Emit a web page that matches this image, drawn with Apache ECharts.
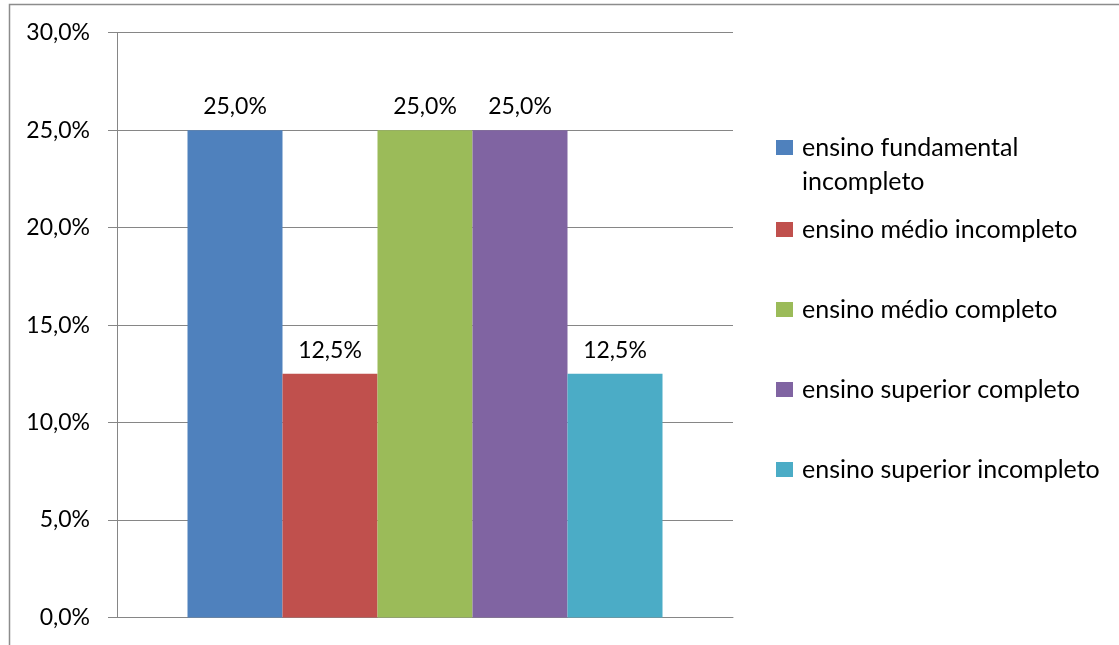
<!DOCTYPE html>
<html>
<head>
<meta charset="utf-8">
<script src="https://cdn.jsdelivr.net/npm/echarts@6/dist/echarts.min.js"></script>
<style>
  html, body { margin: 0; padding: 0; background: #fff; }
  #chart { width: 1119px; height: 645px; }
</style>
</head>
<body>
<div id="chart"></div>
<script>
// Escolaridade: percentage per education level
const categories = [''];
const seriesNames = [
  'ensino fundamental incompleto',
  'ensino médio incompleto',
  'ensino médio completo',
  'ensino superior completo',
  'ensino superior incompleto'
];
const seriesValues = [25.0, 12.5, 25.0, 25.0, 12.5];
const seriesColors = ['#4F81BD', '#C0504D', '#9BBB59', '#8064A2', '#4BACC6'];
const yTicks = { min: 0, max: 30, interval: 5 };

const FONT = 'Lato';
const fmtPct = v => Number(v).toFixed(1).replace('.', ',') + '%';

const chart = echarts.init(document.getElementById('chart'), null, { renderer: 'canvas' });

const series = seriesNames.map((name, i) => ({
  name: name,
  type: 'bar',
  data: [seriesValues[i]],
  barWidth: 95,
  barGap: '0%',
  itemStyle: { color: seriesColors[i] },
  label: {
    show: true,
    position: 'top',
    distance: 12,
    fontFamily: FONT,
    fontSize: 23,
    color: '#000',
    formatter: p => fmtPct(p.value)
  },
  emphasis: { disabled: true }
}));

const legendText = { fontFamily: FONT, fontSize: 25, color: '#000', padding: [0, 0, 0, 4] };

chart.setOption({
  animation: false,
  backgroundColor: '#fff',
  grid: { left: 117, right: 386, top: 32.7, bottom: 27.5, containLabel: false },
  xAxis: {
    type: 'category',
    data: categories,
    axisLine: { show: true, lineStyle: { color: '#868686', width: 1 } },
    axisTick: { show: false },
    axisLabel: { show: false },
    splitLine: { show: false }
  },
  yAxis: {
    type: 'value',
    min: yTicks.min,
    max: yTicks.max,
    interval: yTicks.interval,
    axisLine: { show: true, lineStyle: { color: '#868686', width: 1 } },
    axisTick: { show: true, inside: false, length: 9, lineStyle: { color: '#868686' } },
    axisLabel: {
      margin: 27,
      fontFamily: FONT,
      fontSize: 23,
      color: '#000',
      formatter: v => fmtPct(v)
    },
    splitLine: { show: true, lineStyle: { color: '#868686', width: 1 } }
  },
  legend: [
    {
      data: [seriesNames[0]],
      left: 776,
      top: 130.5,
      padding: 0,
      itemWidth: 17,
      itemHeight: 49,
      icon: 'path://M0,0H17V15H0Z M0,48.9H0.1V49H0Z',
      formatter: n => n.replace('fundamental ', 'fundamental\n'),
      textStyle: Object.assign({ lineHeight: 34 }, legendText),
      selectedMode: false
    },
    {
      data: seriesNames.slice(1),
      orient: 'vertical',
      left: 776,
      top: 214.5,
      padding: 0,
      itemWidth: 17,
      itemHeight: 15,
      itemGap: 50,
      icon: 'rect',
      textStyle: Object.assign({ lineHeight: 30 }, legendText),
      selectedMode: false
    }
  ],
  graphic: [
    {
      type: 'rect',
      silent: true,
      shape: { x: 9.5, y: 4.5, width: 1200, height: 700 },
      style: { fill: 'none', stroke: '#8C8C8C', lineWidth: 1.5 }
    }
  ],
  series: series
});
</script>
</body>
</html>
